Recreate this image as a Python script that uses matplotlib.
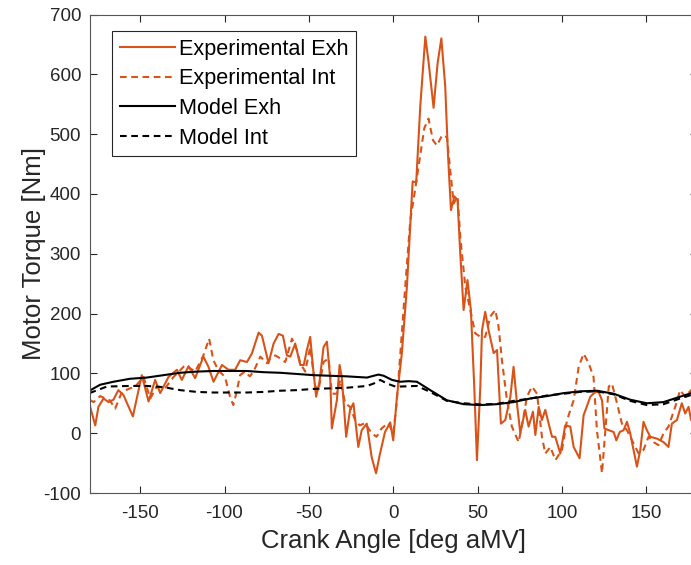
import matplotlib
matplotlib.use("Agg")
import matplotlib.pyplot as plt

plt.rcParams['font.family'] = ['Liberation Sans', 'DejaVu Sans']
plt.rcParams['axes.unicode_minus'] = False

# ---------------- data ----------------
exp_exh_deg = [-180, -179.6, -176.6, -174.7, -171.7, -168.8, -165.8, -162.9, -159.9, -154.3, -149, -145, -141.1,
               -138.1, -133.2, -128.2, -125.3, -121.3, -117.4, -112.5, -109.5, -106.5, -101.5, -97.6, -93.7,
               -90.7, -86.7, -83.8, -79.8, -77.8, -73.9, -70.9, -67.9, -65.4, -63, -61, -58.1, -55.1, -53,
               -51.2, -49.2, -47.6, -45.7, -43.7, -41.3, -39.3, -37.3, -36.4, -33.4, -31.8, -30.5, -27.9,
               -25.6, -23.6, -20.7, -18.7, -15.7, -12.8, -10.2, -7.9, -4.9, -3.3, -1.8, 0.0, 2.2, 5.1, 8.1,
               11.5, 13.6, 16, 19, 21, 23.9, 26.3, 28.5, 30.8, 32.4, 34.2, 36.2, 38.1, 39.7, 41.7, 44, 46,
               48, 49.6, 51.6, 52.6, 54.5, 56.5, 59.5, 61.5, 63.8, 66.4, 69.4, 71.3, 73.3, 75.3, 78.2, 80.2,
               82.8, 84.2, 86.2, 88.1, 90.1, 92.1, 94.1, 96, 99, 101.9, 104.9, 106.9, 110.4, 112.8, 116.8,
               119.7, 121.7, 123.7, 125.1, 127.7, 130.6, 132.2, 134.2, 136.5, 138.5, 140.4, 142.4, 144.4,
               146.4, 148.3, 150.3, 152.3, 156.2, 160.2, 163.1, 165.1, 168.1, 171, 173, 175, 176.5, 180]
exp_exh_val = [50, 44, 13, 44, 58, 52, 56, 72, 64, 28, 97, 53, 89,
               67, 94, 106, 89, 112, 92, 128, 111, 86, 114, 106, 106,
               122, 119, 133, 168, 163, 117, 150, 166, 163, 130, 128, 150, 114, 114,
               139, 161, 111, 61, 86, 144, 153, 89, 8, 55, 114, 94, -6,
               39, 50, -23, 5, 16, -40, -67, -35, 2, 10, 18, -12, 61, 134, 245,
               421, 419, 546, 663, 619, 544, 619, 660, 580, 468, 373, 396, 390, 301, 206, 256, 206,
               78, -45, 78, 172, 203, 172, 134, 139, 16, 22, 61, 111, 50, 0, 39, 11,
               36, -3, 44, 22, 39, 16, -6, -6, -34, 13, 11, -23, -42, 30, 61,
               69, 69, 55, 8, 5, 2, -12, 2, 5, 19, 0, -28, -56,
               -28, 19, 5, -6, -9, -15, -23, 16, 22, 50, 33, 44, 22, 15]

exp_int_deg = [-180, -179.6, -177.6, -173.7, -168, -164.8, -160.8, -156, -152.9, -148, -144, -140.1, -135.2,
               -130.2, -126.3, -123.3, -117.4, -112.5, -109.1, -106.6, -103.6, -99.7, -96.7, -94.8, -92.8,
               -90.8, -87.9, -85, -82.8, -78.8, -74.9, -72.9, -69.9, -66.9, -64, -60, -57.1, -55.1, -52.2,
               -49.2, -46.2, -44.3, -41.3, -38.3, -36.4, -33.4, -31.4, -28.5, -25.6, -22.6, -19.8, -16.8,
               -12.8, -9.9, -6.9, -3, 0, 2, 4.2, 7.1, 10.1, 12.9, 16, 18.4, 20.9, 23.5, 25.9, 28.9, 31.8,
               33.8, 35.8, 38.1, 39.7, 42.7, 45.6, 48.6, 51.6, 54.5, 57.5, 60.5, 62.4, 64.4, 67.4, 70.3,
               74.3, 77.2, 79.2, 82.2, 85.2, 88.1, 90.1, 93.1, 96.1, 100, 103, 106.9, 109.9, 112.8, 115.8,
               118.7, 120.7, 123.7, 125.7, 127.7, 129.6, 132.6, 135.5, 138.5, 142.4, 145.4, 148.3, 151.3,
               154.3, 157.2, 160.2, 163.1, 167.1, 170, 173, 176.5, 180]
exp_int_val = [55, 55, 52, 62, 55, 41, 69, 75, 78, 94, 58, 78, 75,
               94, 105, 114, 103, 130, 158, 122, 105, 94, 61, 47, 69,
               97, 103, 95, 103, 128, 117, 125, 130, 125, 119, 158, 139, 117, 103,
               144, 78, 72, 119, 125, 66, 66, 89, 50, 44, 22, 13, 17,
               0, -6, 8, 17, 0, 50, 133, 245, 356, 406, 465, 510, 526, 490, 481, 498, 495,
               439, 384, 396, 329, 245, 206, 167, 161, 161, 195, 206, 178, 122, 55, 11,
               -15, 27, 61, 78, 66, -6, -34, -23, -45, -28, 22, 55, 111, 133, 117,
               94, 5, -67, 5, 78, 83, 50, 16, 5, -17, -34, -28, -6,
               -15, -20, 0, 11, 44, 72, 61, 72, 65]

model_exh_deg = [-180, -173.7, -165.8, -155.9, -146, -136.2, -126.3, -116.4, -106.5, -96.6, -86.7, -76.9,
                 -67, -57.1, -47.2, -37.3, -27.4, -15.6, -11.6, -8.7, -5.7, -0.7, 4.2, 9, 14, 21.9, 31.8,
                 41.7, 51.6, 61.5, 71.3, 81.2, 91.1, 101, 110.8, 120.7, 130.6, 140.4, 150.3, 160.2, 170, 180]
model_exh_val = [71, 81, 86, 91, 93, 97, 101, 103, 104, 104, 104, 102,
                 101, 99, 97, 96, 95, 93, 96, 98, 96, 89, 86, 87, 86, 72, 55,
                 48.5, 47, 48.5, 52, 58, 62, 67, 70, 71, 66, 56, 50, 52, 61, 70]

model_int_deg = [-180, -169.7, -155.9, -146, -136.2, -126.3, -116.4, -106.5, -96.6, -86.7, -76.9, -67,
                 -57.1, -47.2, -37.3, -27.4, -15.6, -11.6, -7.7, -3.7, 2.2, 4.2, 14, 21.9, 31.8, 41.7,
                 51.6, 61.5, 71.3, 81.2, 91.1, 101, 110.8, 120.7, 130.6, 140.4, 150.3, 160.2, 170, 180]
model_int_val = [67, 78, 79, 79, 77, 72, 69, 68, 68, 68, 69, 71,
                 72, 74, 75, 76, 79, 83, 89, 83, 77, 78, 79, 69, 54, 50,
                 48, 49, 54, 58, 63, 66, 69, 70, 65, 54, 47, 48.5, 58, 67]

labels = ["Experimental Exh", "Experimental Int", "Model Exh", "Model Int"]
x_ticks = [-150, -100, -50, 0, 50, 100, 150]
y_ticks = [-100, 0, 100, 200, 300, 400, 500, 600, 700]

# ---------------- figure ----------------
orange = '#D95319'
axcol = '#262626'
W, H = 691, 565
fig = plt.figure(figsize=(W / 100, H / 100), dpi=100)
ax = fig.add_axes([89.5 / W, (H - 493) / H, (697 - 89.5) / W, (493 - 14.5) / H])

lw = 1.5
dash = (3.2, 2.2)
ax.plot(exp_exh_deg, exp_exh_val, color=orange, lw=lw, label=labels[0])
ax.plot(exp_int_deg, exp_int_val, color=orange, lw=lw, dashes=dash, label=labels[1])
ax.plot(model_exh_deg, model_exh_val, color='black', lw=lw, label=labels[2])
ax.plot(model_int_deg, model_int_val, color='black', lw=lw, dashes=dash, label=labels[3])

ax.set_xlim(-180, 180)
ax.set_ylim(-100, 700)
ax.set_xticks(x_ticks)
ax.set_yticks(y_ticks)
ax.tick_params(direction='in', length=5, width=0.8, colors=axcol, labelsize=13.5,
               top=True, right=True)
ax.tick_params(axis='x', pad=9)
ax.tick_params(axis='y', pad=6)
for s in ax.spines.values():
    s.set_color('#555555')
    s.set_linewidth(0.8)

ax.set_xlabel("Crank Angle [deg aMV]", fontsize=18.5, color=axcol, labelpad=5)
ax.set_ylabel("Motor Torque [Nm]", fontsize=18.5, color=axcol, labelpad=-2)

leg = ax.legend(loc='upper left', bbox_to_anchor=(111.7 / W, 1 - 30.7 / H),
                bbox_transform=fig.transFigure, borderaxespad=0,
                fontsize=15.6, handlelength=2.55, handletextpad=0.2, labelspacing=0.4,
                borderpad=0.36, fancybox=False, framealpha=1, edgecolor='#262626')
leg.get_frame().set_linewidth(0.8)

fig.savefig("out.png", dpi=100)
